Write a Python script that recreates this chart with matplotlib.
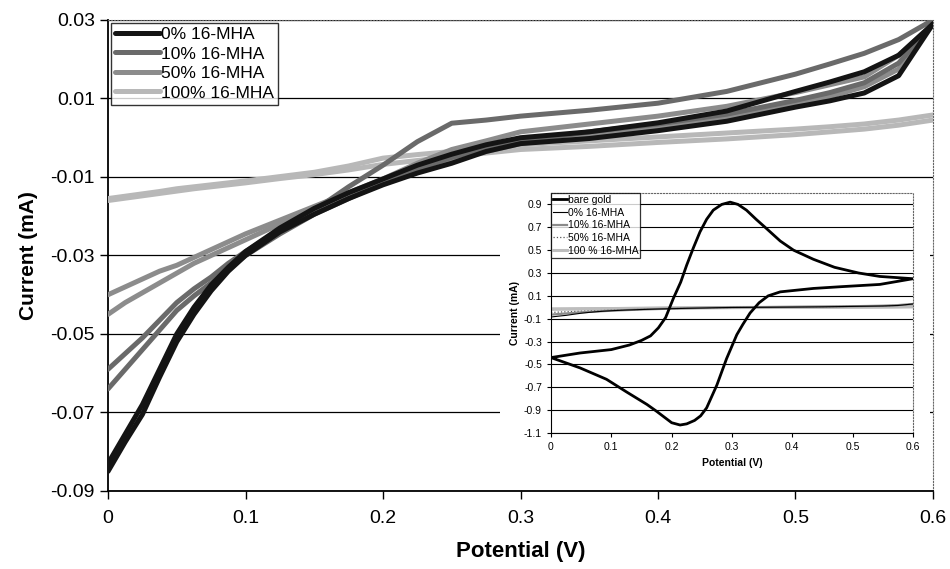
import matplotlib
matplotlib.use('Agg')
import matplotlib.pyplot as plt
from matplotlib.patches import Rectangle

plt.rcParams['font.family'] = ['Liberation Sans', 'DejaVu Sans']

# Potential sweep points (V)
potential = [0, 0.0125, 0.025, 0.0375, 0.05, 0.0625, 0.075, 0.0875, 0.1, 0.125, 0.15, 0.175,
             0.2, 0.225, 0.25, 0.275, 0.3, 0.35, 0.4, 0.45, 0.5, 0.525, 0.55, 0.575, 0.6]

# Current (mA), forward and reverse branches for each monolayer
mha0_fwd = [-0.085, -0.0775, -0.0705, -0.061, -0.052, -0.045, -0.039, -0.034, -0.030, -0.024,
            -0.0195, -0.0155, -0.012, -0.009, -0.0065, -0.0035, -0.0015, -0.0002, 0.0018,
            0.0042, 0.0078, 0.0094, 0.0114, 0.0158, 0.029]
mha0_rev = [-0.083, -0.0755, -0.068, -0.059, -0.050, -0.0432, -0.0375, -0.033, -0.029, -0.023,
            -0.018, -0.014, -0.0105, -0.007, -0.0042, -0.0018, 0.0, 0.0015, 0.0038,
            0.0068, 0.0118, 0.0142, 0.0168, 0.021, 0.029]
mha10_fwd = [-0.064, -0.059, -0.054, -0.049, -0.044, -0.0403, -0.037, -0.0333, -0.030, -0.0245,
             -0.0195, -0.0155, -0.0115, -0.008, -0.005, -0.0028, -0.001, 0.0015, 0.0035,
             0.006, 0.0095, 0.0115, 0.014, 0.019, 0.029]
mha10_rev = [-0.059, -0.055, -0.051, -0.0465, -0.042, -0.0385, -0.0355, -0.032, -0.029, -0.0235,
             -0.0185, -0.0125, -0.007, -0.001, 0.0037, 0.0045, 0.0055, 0.007, 0.0088,
             0.0118, 0.0162, 0.0188, 0.0215, 0.025, 0.030]
mha50_fwd = [-0.045, -0.042, -0.0395, -0.037, -0.0345, -0.032, -0.030, -0.028, -0.026, -0.022,
             -0.0185, -0.015, -0.0115, -0.008, -0.0055, -0.0035, -0.0015, 0.0005, 0.0025,
             0.005, 0.0085, 0.0105, 0.013, 0.0175, 0.029]
mha50_rev = [-0.040, -0.038, -0.036, -0.034, -0.0325, -0.0305, -0.0285, -0.0265, -0.0245, -0.021,
             -0.0175, -0.014, -0.0105, -0.0065, -0.003, -0.0008, 0.0015, 0.0035, 0.0055,
             0.008, 0.0115, 0.0135, 0.0155, 0.021, 0.029]
mha100_fwd = [-0.016, -0.0154, -0.0148, -0.0142, -0.0136, -0.013, -0.0125, -0.012, -0.0115, -0.0104,
              -0.0094, -0.0082, -0.0068, -0.0058, -0.0048, -0.0039, -0.003, -0.0022, -0.0012,
              -0.0003, 0.0008, 0.0015, 0.0022, 0.0032, 0.0045]
mha100_rev = [-0.0155, -0.0149, -0.0143, -0.0137, -0.013, -0.0125, -0.012, -0.0115, -0.011, -0.0099,
              -0.0088, -0.0072, -0.0052, -0.0043, -0.0035, -0.0026, -0.0018, -0.0008, 0.0002,
              0.0012, 0.0022, 0.0028, 0.0035, 0.0045, 0.0058]

labels = ['0% 16-MHA', '10% 16-MHA', '50% 16-MHA', '100% 16-MHA']
colors = ['#141414', '#6a6a6a', '#8c8c8c', '#b8b8b8']

# Bare gold CV (inset)
gold_v_fwd = [0, 0.048, 0.1, 0.13, 0.15, 0.165, 0.178, 0.19, 0.203, 0.215, 0.225, 0.236,
              0.247, 0.258, 0.269, 0.283, 0.297, 0.31, 0.324, 0.34, 0.357, 0.38, 0.402,
              0.435, 0.47, 0.51, 0.545, 0.6]
gold_i_fwd = [-0.44, -0.40, -0.37, -0.33, -0.29, -0.25, -0.18, -0.09, 0.08, 0.22, 0.37, 0.52,
              0.66, 0.77, 0.85, 0.90, 0.92, 0.90, 0.85, 0.77, 0.69, 0.58, 0.50,
              0.42, 0.35, 0.30, 0.27, 0.25]
gold_v_rev = [0.6, 0.545, 0.48, 0.435, 0.38, 0.36, 0.345, 0.33, 0.318, 0.308, 0.291, 0.275,
              0.258, 0.248, 0.238, 0.225, 0.214, 0.2, 0.19, 0.175, 0.159, 0.125, 0.092,
              0.048, 0]
gold_i_rev = [0.25, 0.20, 0.18, 0.165, 0.135, 0.10, 0.04, -0.05, -0.15, -0.24, -0.45, -0.68,
              -0.88, -0.95, -0.99, -1.02, -1.03, -1.01, -0.97, -0.91, -0.85, -0.74, -0.63,
              -0.53, -0.44]

x_ticks = [0, 0.1, 0.2, 0.3, 0.4, 0.5, 0.6]
x_ticklabels = ['0', '0.1', '0.2', '0.3', '0.4', '0.5', '0.6']
y_ticks = [-0.09, -0.07, -0.05, -0.03, -0.01, 0.01, 0.03]
inset_y_ticks = [-1.1, -0.9, -0.7, -0.5, -0.3, -0.1, 0.1, 0.3, 0.5, 0.7, 0.9]

fig = plt.figure(figsize=(9.5, 5.69), dpi=100)
ax = fig.add_axes([0.1137, 0.1371, 0.8684, 0.8278])

series = [(mha0_fwd, mha0_rev), (mha10_fwd, mha10_rev),
          (mha50_fwd, mha50_rev), (mha100_fwd, mha100_rev)]
handles = {}
for idx in [3, 2, 1, 0]:
    fwd, rev = series[idx]
    h, = ax.plot(potential, fwd, color=colors[idx], lw=3.6, zorder=3 + (3 - idx),
                 solid_capstyle='round', solid_joinstyle='round')
    ax.plot(potential, rev, color=colors[idx], lw=3.6, zorder=3 + (3 - idx),
            solid_capstyle='round', solid_joinstyle='round')
    handles[idx] = h
handles = [handles[i] for i in range(4)]

ax.set_xlim(0, 0.6)
ax.set_ylim(-0.09, 0.03)
ax.set_xticks(x_ticks)
ax.set_xticklabels(x_ticklabels)
ax.set_yticks(y_ticks)
ax.set_yticklabels([f'{t:.2f}' for t in y_ticks])
ax.tick_params(axis='both', direction='out', length=6, width=1, labelsize=14, colors='black')
ax.tick_params(axis='x', pad=8)
ax.yaxis.grid(True, color='black', lw=0.9)
ax.set_axisbelow(True)
for side in ['top', 'right']:
    ax.spines[side].set_linestyle(':')
    ax.spines[side].set_color('#666666')
for side in ['left', 'bottom']:
    ax.spines[side].set_linewidth(1.3)
ax.set_xlabel('Potential (V)', fontsize=16, fontweight='bold', labelpad=10)
ax.set_ylabel('Current (mA)', fontsize=15, fontweight='bold', labelpad=9)

leg = ax.legend(handles, labels, loc='upper left', fontsize=12.5, frameon=True,
                fancybox=False, edgecolor='black', borderaxespad=0.15,
                handlelength=2.6, handletextpad=0.05, labelspacing=0.25,
                borderpad=0.25)
leg.get_frame().set_linewidth(1.0)
leg.set_zorder(20)

# White backing for the inset chart
bg = fig.add_axes([0.526, 0.1775, 0.4526, 0.506])
bg.add_patch(Rectangle((0, 0), 1, 1, color='white', transform=bg.transAxes))
bg.axis('off')
bg.set_zorder(5)

ins = fig.add_axes([0.58, 0.239, 0.381, 0.4218])
ins.set_zorder(6)
ins.plot(potential, mha100_fwd, color='#bdbdbd', lw=2.2)
ins.plot(potential, mha100_rev, color='#bdbdbd', lw=2.2)
ins.plot(potential, mha50_fwd, color='#555555', lw=0.9, ls=':')
ins.plot(potential, mha10_fwd, color='#8a8a8a', lw=1.6)
ins.plot(potential, mha0_fwd, color='black', lw=0.8)
ins.plot(gold_v_fwd + gold_v_rev, gold_i_fwd + gold_i_rev, color='black', lw=2.0,
         solid_joinstyle='round')

ins_handles = [
    plt.Line2D([], [], color='black', lw=2.0),
    plt.Line2D([], [], color='black', lw=0.8),
    plt.Line2D([], [], color='#8a8a8a', lw=1.6),
    plt.Line2D([], [], color='#555555', lw=0.9, ls=':'),
    plt.Line2D([], [], color='#bdbdbd', lw=2.2),
]
ins_labels = ['bare gold', '0% 16-MHA', '10% 16-MHA', '50% 16-MHA', '100 % 16-MHA']
ileg = ins.legend(ins_handles, ins_labels, loc='upper left', fontsize=7.5, frameon=True,
                  fancybox=False, edgecolor='black', borderaxespad=0.0,
                  handlelength=1.3, handletextpad=0.1, labelspacing=0.25, borderpad=0.2)
ileg.get_frame().set_linewidth(0.9)

ins.set_xlim(0, 0.6)
ins.set_ylim(-1.1, 1.0)
ins.set_xticks(x_ticks)
ins.set_xticklabels(x_ticklabels)
ins.set_yticks(inset_y_ticks)
ins.set_yticklabels([f'{t:.1f}' for t in inset_y_ticks])
ins.tick_params(axis='both', direction='out', length=3, width=0.8, labelsize=7.5)
ins.yaxis.grid(True, color='black', lw=0.8)
ins.set_axisbelow(True)
for side in ['top', 'right']:
    ins.spines[side].set_linestyle(':')
    ins.spines[side].set_color('#666666')
ins.set_xlabel('Potential (V)', fontsize=7.5, fontweight='bold', labelpad=4)
ins.set_ylabel('Current (mA)', fontsize=7.5, fontweight='bold', labelpad=3)

fig.savefig('out.png', dpi=100)
